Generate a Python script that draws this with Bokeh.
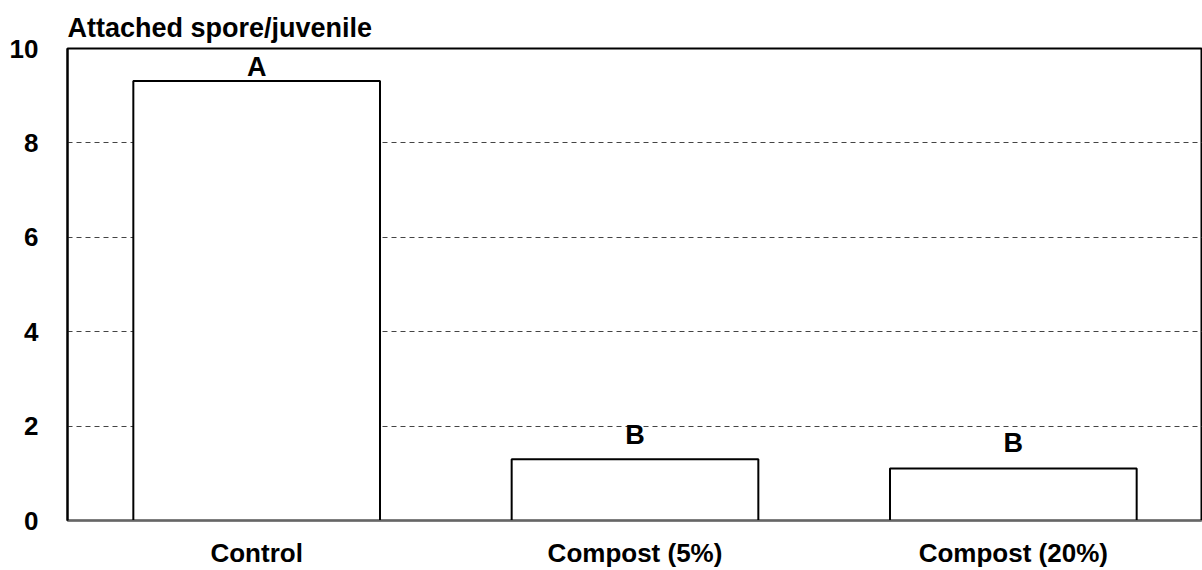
from bokeh.plotting import figure
from bokeh.models import ColumnDataSource, FactorRange, Range1d, FixedTicker
from bokeh.core.properties import value
from bokeh.embed import file_html
from bokeh.resources import INLINE

categories = ["Control", "Compost (5%)", "Compost (20%)"]
values = [9.31, 1.30, 1.10]
letters = ["A", "B", "B"]
letter_y = [9.30, 1.49, 1.33]
y_ticks = [0, 2, 4, 6, 8, 10]
title_text = "Attached spore/juvenile"

FONT = "Liberation Sans"

src = ColumnDataSource(dict(cat=categories, val=values, let=letters, ly=letter_y))

p = figure(
    width=1202, height=570,
    x_range=FactorRange(factors=categories, range_padding=0),
    y_range=Range1d(0, 10),
    output_backend="svg", toolbar_location=None,
    min_border_left=67, min_border_right=0, min_border_top=48, min_border_bottom=49,
)
p.title.text = title_text
p.title.align = "left"
p.title.text_font = FONT
p.title.text_font_size = "27px"
p.title.text_font_style = "bold"
p.title.text_color = "black"
p.title.offset = 0
p.title.standoff = 12

p.vbar(x="cat", top="val", width=0.652, source=src,
       fill_color="white", line_color="black", line_width=2)
p.text(x="cat", y="ly", text="let", source=src,
       text_font=value(FONT), text_font_size="27px", text_font_style="bold",
       text_align="center", text_baseline="bottom", text_color="black")

p.outline_line_color = "black"
p.outline_line_width = 2

p.xgrid.grid_line_color = None
p.ygrid.ticker = FixedTicker(ticks=y_ticks)
p.ygrid.grid_line_color = "#444444"
p.ygrid.grid_line_dash = "5 4"
p.ygrid.grid_line_width = 1

p.yaxis.ticker = FixedTicker(ticks=y_ticks)
p.yaxis.major_tick_line_color = None
p.yaxis.minor_tick_line_color = None
p.yaxis.major_tick_out = 0
p.yaxis.major_tick_in = 0
p.yaxis.major_label_standoff = 29
p.yaxis.axis_line_color = "black"
p.yaxis.axis_line_width = 2
p.yaxis.major_label_text_font = FONT
p.yaxis.major_label_text_font_size = "26px"
p.yaxis.major_label_text_font_style = "bold"
p.yaxis.major_label_text_color = "black"

p.xaxis.major_tick_line_color = None
p.xaxis.minor_tick_line_color = None
p.xaxis.major_tick_out = 0
p.xaxis.major_tick_in = 0
p.xaxis.major_label_standoff = 17
p.xaxis.axis_line_color = "#666666"
p.xaxis.axis_line_width = 1
p.xaxis.major_label_text_font = FONT
p.xaxis.major_label_text_font_size = "26px"
p.xaxis.major_label_text_font_style = "bold"
p.xaxis.major_label_text_color = "black"

open("out.html", "w").write(file_html(p, INLINE))
